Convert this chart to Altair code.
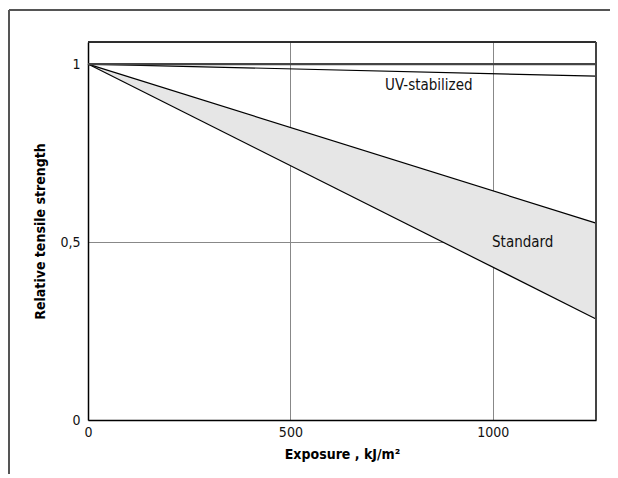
import altair as alt
import pandas as pd

# Data
exposure = [0, 1255]
standard_upper = [1.0, 0.553]
standard_lower = [1.0, 0.284]
uv_stabilized = [1.0, 0.966]
reference_level = [1.0, 1.0]

label_text = ["UV-stabilized", "Standard"]
label_x = [842, 1074]
label_y = [0.941, 0.50]

x_ticks = [0, 500, 1000]
y_ticks = [0, 0.5, 1]

FONT = "Liberation Sans Narrow, DejaVu Sans Condensed, Roboto, sans-serif"

band = pd.DataFrame({"x": exposure, "lo": standard_lower, "hi": standard_upper})
lines = pd.DataFrame({
    "x": exposure * 4,
    "y": standard_upper + standard_lower + uv_stabilized + reference_level,
    "s": ["up"] * 2 + ["lo"] * 2 + ["uv"] * 2 + ["ref"] * 2,
})
labels = pd.DataFrame({"t": label_text, "x": label_x, "y": label_y})

xs = alt.Scale(domain=[0, 1255], nice=False, zero=False)
ys = alt.Scale(domain=[0, 1.062], nice=False, zero=False)

xax = alt.Axis(values=x_ticks, format="d", title="Exposure , kJ/m²", grid=True, gridColor="#888888",
               gridWidth=1, tickSize=0, labelPadding=5, titlePadding=8,
               domainColor="#000000", domainWidth=1.5, labelFont=FONT, labelFontSize=14,
               labelColor="#111111", titleFont=FONT, titleFontSize=14, titleFontWeight="bold",
               titleColor="#000000", labelFlush=False)
yax = alt.Axis(values=y_ticks, title="Relative tensile strength", grid=True, gridColor="#888888",
               gridWidth=1, tickSize=0, labelPadding=8, titlePadding=12,
               domainColor="#000000", domainWidth=1.5, labelFont=FONT, labelFontSize=14,
               labelColor="#111111", titleFont=FONT, titleFontSize=14, titleFontWeight="bold",
               titleColor="#000000", labelExpr="replace(format(datum.value, ''), '.', ',')",
               labelFlush=False)

area = alt.Chart(band).mark_area(color="#e6e6e6", opacity=1).encode(
    x=alt.X("x:Q", scale=xs, axis=xax),
    y=alt.Y("lo:Q", scale=ys, axis=yax),
    y2="hi:Q",
)

line_base = alt.Chart(lines).encode(
    x=alt.X("x:Q", scale=xs),
    y=alt.Y("y:Q", scale=ys),
    detail="s:N",
)
data_lines = line_base.transform_filter(alt.datum.s != "ref").mark_line(color="#000000", strokeWidth=1.2)
ref_line = line_base.transform_filter(alt.datum.s == "ref").mark_line(color="#444444", strokeWidth=2.2)

text = alt.Chart(labels).mark_text(font=FONT, fontSize=15, color="#111111").encode(
    x=alt.X("x:Q", scale=xs), y=alt.Y("y:Q", scale=ys), text="t:N"
)

# Outer decorative frame (top and left edges)
frame_top = alt.Chart(band).mark_rule(color="#555555", strokeWidth=2, clip=False).encode(
    x=alt.value(-79), x2=alt.value(530), y=alt.value(-32)
)
frame_left = alt.Chart(band).mark_rule(color="#555555", strokeWidth=2, clip=False).encode(
    x=alt.value(-79), y=alt.value(-32), y2=alt.value(450)
)
# Plot-area border (top and right edges)
border_top = alt.Chart(band).mark_rule(color="#222222", strokeWidth=1.5, clip=False).encode(
    x=alt.value(0), x2=alt.value(508), y=alt.value(0)
)
border_right = alt.Chart(band).mark_rule(color="#444444", strokeWidth=2, clip=False).encode(
    x=alt.value(508), y=alt.value(0), y2=alt.value(378)
)

chart = alt.layer(area, data_lines, ref_line, text, frame_top, frame_left,
                  border_top, border_right).properties(
    width=508, height=378,
    autosize=alt.AutoSizeParams(type="none"),
    padding={"left": 80, "top": 34, "right": 14, "bottom": 54},
).configure_view(stroke=None).configure(background="white")

chart.save("out.html", embed_options={"renderer": "svg", "actions": False})
